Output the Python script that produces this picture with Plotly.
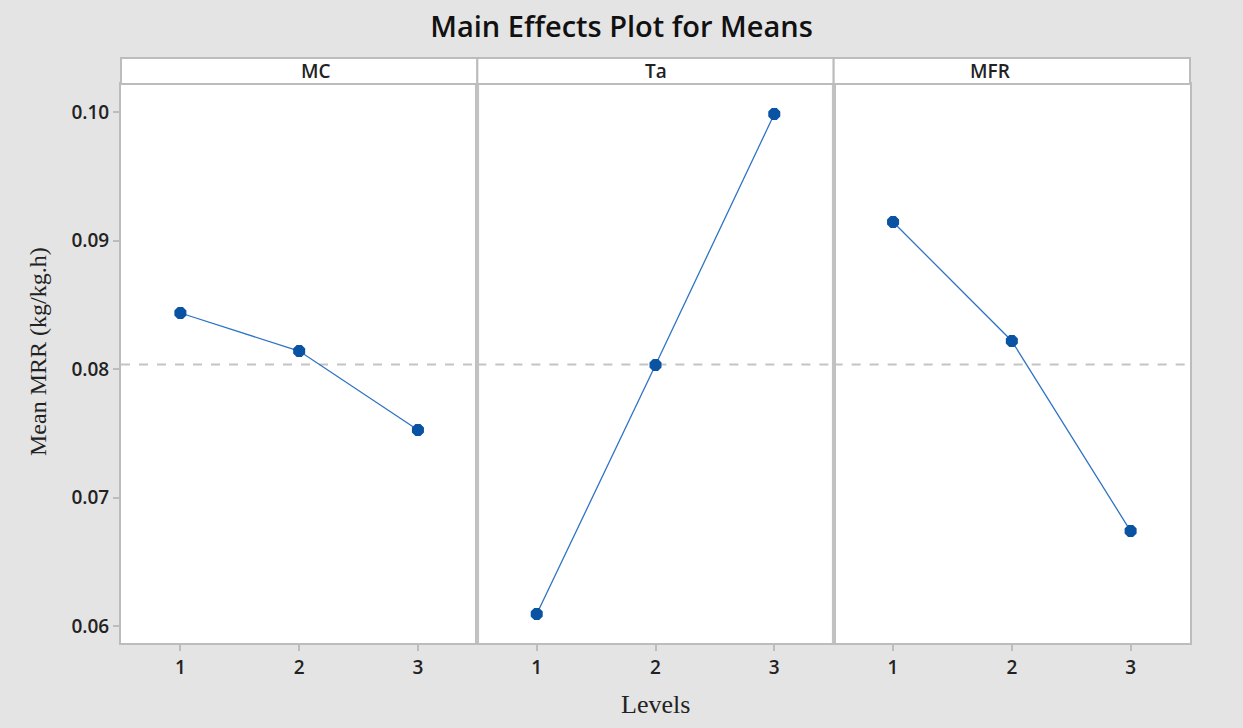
import plotly.graph_objects as go
from plotly.subplots import make_subplots

# Factor names and levels
factors = ["MC", "Ta", "MFR"]
levels = [1, 2, 3]

# Mean MRR at each level of each factor
mc_means = [0.08436, 0.08140, 0.07525]
ta_means = [0.06093, 0.08031, 0.09984]
mfr_means = [0.09144, 0.08218, 0.06739]
grand_mean = 0.08035

y_ticks = [0.06, 0.07, 0.08, 0.09, 0.10]
y_tick_labels = ["0.06", "0.07", "0.08", "0.09", "0.10"]

series = [mc_means, ta_means, mfr_means]

BG = "#e4e4e4"
FRAME = "#bcbcbc"
DIVIDER = "#c2c2c2"
LINE_COLOR = "#2f74c4"
MARKER_COLOR = "#0a53a3"
TICK_FONT = dict(family="Open Sans", size=19, color="#222222", weight=600)

# Plot-area geometry in pixels (used to place free text in paper units)
FIG_W, FIG_H = 1243, 728
M_L, M_R, M_T, M_B = 121, 53, 84, 85
PLOT_W = FIG_W - M_L - M_R
PLOT_H = FIG_H - M_T - M_B

fig = make_subplots(rows=1, cols=3, shared_yaxes=True, horizontal_spacing=0)

for i, vals in enumerate(series):
    fig.add_trace(
        go.Scatter(
            x=levels,
            y=vals,
            mode="lines+markers",
            line=dict(color=LINE_COLOR, width=1.3),
            marker=dict(color=MARKER_COLOR, size=13, symbol="octagon"),
            showlegend=False,
            hoverinfo="x+y",
        ),
        row=1,
        col=i + 1,
    )
    # Grand-mean reference line across the panel
    xref = "x" if i == 0 else f"x{i + 1}"
    fig.add_shape(
        type="line",
        xref=f"{xref} domain",
        yref="y",
        x0=0,
        x1=1,
        y0=grand_mean,
        y1=grand_mean,
        line=dict(color="#c4c4c4", width=2, dash="dash"),
        layer="below",
    )

for i in range(3):
    fig.update_xaxes(
        range=[0.5, 3.5],
        tickmode="array",
        tickvals=levels,
        ticktext=[str(v) for v in levels],
        ticks="outside",
        ticklen=6,
        tickwidth=1.5,
        tickcolor=FRAME,
        showgrid=False,
        zeroline=False,
        showline=True,
        linecolor=FRAME,
        linewidth=2,
        mirror=True,
        tickfont=TICK_FONT,
        fixedrange=True,
        row=1,
        col=i + 1,
    )

fig.update_yaxes(
    range=[0.05868, 0.10218],
    tickmode="array",
    tickvals=y_ticks,
    ticktext=y_tick_labels,
    showgrid=False,
    zeroline=False,
    showline=True,
    linecolor=FRAME,
    linewidth=2,
    mirror=True,
    fixedrange=True,
    ticks="",
    showticklabels=False,
)
fig.update_yaxes(
    ticks="outside",
    ticklen=6,
    tickwidth=1.5,
    tickcolor=FRAME,
    showticklabels=True,
    tickfont=TICK_FONT,
    row=1,
    col=1,
)

# Panel dividers
for xd in [1 / 3, 2 / 3]:
    fig.add_shape(
        type="line",
        xref="paper",
        yref="paper",
        x0=xd,
        x1=xd,
        y0=0,
        y1=1,
        line=dict(color=DIVIDER, width=3.5),
    )

# Strip headers above each panel
strip_h = 26 / PLOT_H
for i, name in enumerate(factors):
    x0 = i / 3
    x1 = (i + 1) / 3
    fig.add_shape(
        type="rect",
        xref="paper",
        yref="paper",
        x0=x0,
        x1=x1,
        y0=1,
        y1=1 + strip_h,
        fillcolor="white",
        line=dict(color=FRAME, width=2),
    )
    fig.add_annotation(
        x=(x0 + x1) / 2,
        y=1 + strip_h / 2,
        xref="paper",
        yref="paper",
        text=name,
        showarrow=False,
        font=dict(family="Open Sans", size=19, color="#222222", weight=600),
        yanchor="middle",
    )

# Axis titles
fig.add_annotation(
    x=0.5,
    y=-(704 - (FIG_H - M_B)) / PLOT_H,
    xref="paper",
    yref="paper",
    text="Levels",
    showarrow=False,
    yanchor="middle",
    font=dict(family="Liberation Serif", size=26, color="#222222"),
)
fig.add_annotation(
    x=(38 - M_L) / PLOT_W,
    y=1 - (352 - M_T) / PLOT_H,
    xref="paper",
    yref="paper",
    text="Mean MRR (kg/kg.h)",
    textangle=-90,
    showarrow=False,
    xanchor="center",
    yanchor="middle",
    font=dict(family="Liberation Serif", size=24, color="#222222"),
)

fig.update_layout(
    width=FIG_W,
    height=FIG_H,
    paper_bgcolor=BG,
    plot_bgcolor="white",
    margin=dict(l=M_L, r=M_R, t=M_T, b=M_B),
    title=dict(
        text="Main Effects Plot for Means",
        x=0.5,
        xanchor="center",
        y=0.963,
        yanchor="middle",
        font=dict(family="Open Sans", size=29, color="#111111", weight=600),
    ),
)

fig.write_html("out.html")
